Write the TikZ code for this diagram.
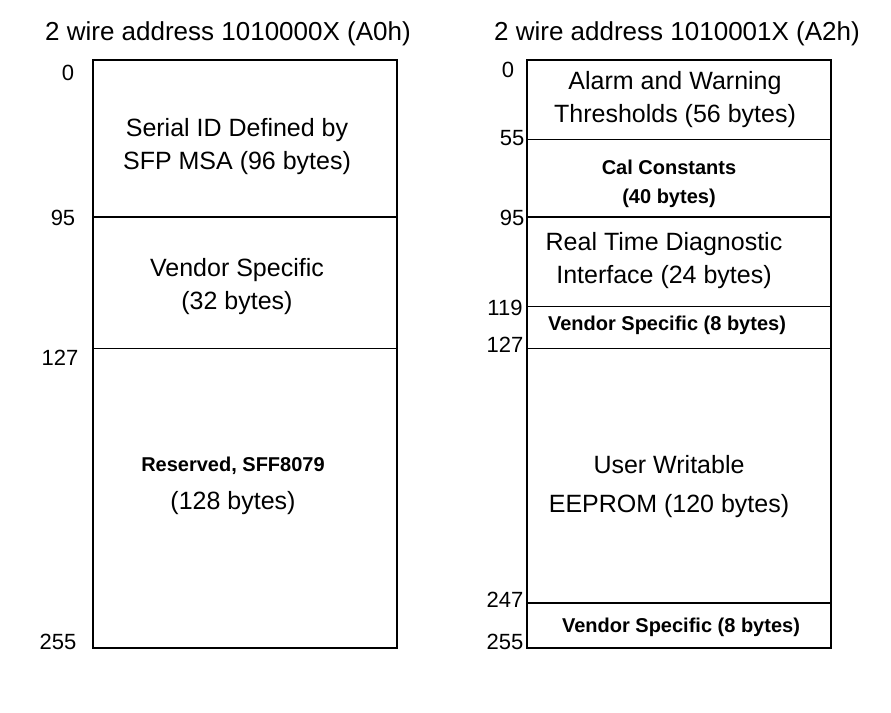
\documentclass[tikz,border=0pt]{standalone}
\usepackage{fontspec}
\setmainfont{Liberation Sans}
\begin{document}
\begin{tikzpicture}[x=1pt,y=-1pt,
  lbl/.style={font=\fontsize{25}{33}\selectfont,align=center},
  ttl/.style={font=\fontsize{26}{32}\selectfont},
  blbl/.style={font=\fontsize{20}{29}\selectfont\bfseries,align=center},
  num/.style={font=\fontsize{22}{26}\selectfont},
  thick line/.style={line width=1.6pt},
  thin line/.style={line width=0.8pt}]
\useasboundingbox (0,0) rectangle (891,712);
% left
\node[ttl] (tl) at (228,34) {2 wire address 1010000X (A0h)};
\draw[line width=1.4pt] (93,60) rectangle (397,648);
\coordinate (l1a) at (93,217); \coordinate (l1b) at (397,217);
\coordinate (l2a) at (93,348); \coordinate (l2b) at (397,348);
\draw[thick line] (l1a) -- (l1b);
\draw[thin line] (l2a) -- (l2b);
\node[lbl] (la) at (237,147) {Serial ID Defined by\\SFP MSA (96 bytes)};
\node[lbl] (lb) at (237,287) {Vendor Specific\\(32 bytes)};
\node[blbl] (lc) at (233,466) {Reserved, SFF8079};
\node[lbl] (ld) at (233,503) {(128 bytes)};
\node[num] (n0) at (68,73) {0};
\node[num] (n95) at (63,218) {95};
\node[num] (n127) at (60,358) {127};
\node[num] (n255) at (58,642) {255};
% right
\node[ttl] (tr) at (677,34) {2 wire address 1010001X (A2h)};
\draw[line width=1.4pt] (527,60) rectangle (831,648);
\coordinate (r1a) at (527,139); \coordinate (r1b) at (831,139);
\coordinate (r2a) at (527,217); \coordinate (r2b) at (831,217);
\coordinate (r3a) at (527,306); \coordinate (r3b) at (831,306);
\coordinate (r4a) at (527,348); \coordinate (r4b) at (831,348);
\coordinate (r5a) at (527,603); \coordinate (r5b) at (831,603);
\draw[thin line] (r1a) -- (r1b);
\draw[thick line] (r2a) -- (r2b);
\draw[thin line] (r3a) -- (r3b);
\draw[thin line] (r4a) -- (r4b);
\draw[thick line] (r5a) -- (r5b);
\node[lbl] (ra) at (675,100) {Alarm and Warning\\Thresholds (56 bytes)};
\node[blbl] (rb) at (669,184) {Cal Constants\\(40 bytes)};
\node[lbl] (rc) at (664,261) {Real Time Diagnostic\\Interface (24 bytes)};
\node[blbl] (rd) at (667,325) {Vendor Specific (8 bytes)};
\node[lbl] (re) at (669,487) {User Writable\\[6pt]EEPROM (120 bytes)};
\node[blbl] (rf) at (681,627) {Vendor Specific (8 bytes)};
\node[num] (m0) at (508,70) {0};
\node[num] (m55) at (512,138) {55};
\node[num] (m95) at (512,218) {95};
\node[num] (m119) at (505,308) {119};
\node[num] (m127) at (505,345) {127};
\node[num] (m247) at (505,600) {247};
\node[num] (m255) at (505,642) {255};
\end{tikzpicture}
\end{document}
